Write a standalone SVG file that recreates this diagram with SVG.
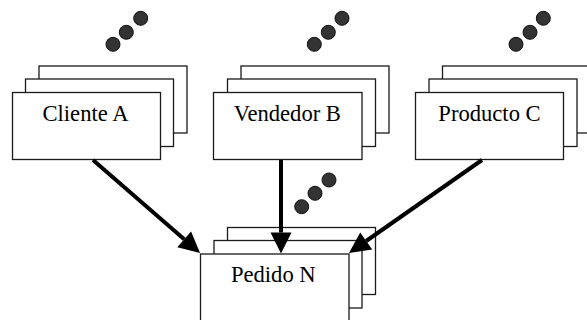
<svg xmlns="http://www.w3.org/2000/svg" width="587" height="320" viewBox="0 0 587 320">
<style>
.card{fill:#fff;stroke:#1a1a1a;stroke-width:1.3}
.dot{fill:#333;stroke:#111;stroke-width:1}
.lbl{font-family:"Liberation Serif","Times New Roman",serif;font-size:22.6px;fill:#000;text-anchor:middle}
.arr{stroke:#000;stroke-width:4;fill:none;marker-end:url(#ah)}
</style>
<defs>
<marker id="ah" markerUnits="userSpaceOnUse" markerWidth="21" markerHeight="22" refX="0" refY="10.5" orient="auto" viewBox="0 0 21 22" overflow="visible">
<path d="M0,0 L21,10.5 L0,21 Z" fill="#000"/>
</marker>
</defs>
<rect width="587" height="320" fill="#fff"/>
<g id="cliente-a">
<circle class="dot" cx="113" cy="44.3" r="7"/>
<circle class="dot" cx="126.3" cy="32.3" r="7"/>
<circle class="dot" cx="140.7" cy="18.3" r="7"/>
<rect class="card" x="39" y="66" width="148" height="67"/>
<rect class="card" x="25.5" y="79" width="148" height="67.5"/>
<rect class="card" x="12.5" y="92.5" width="148" height="67"/>
<text class="lbl" x="85.5" y="120.7">Cliente A</text>
</g>
<g id="vendedor-b">
<circle class="dot" cx="314.3" cy="44.3" r="7"/>
<circle class="dot" cx="328.3" cy="32.3" r="7"/>
<circle class="dot" cx="342" cy="18.3" r="7"/>
<rect class="card" x="241" y="66" width="148" height="67"/>
<rect class="card" x="227.5" y="79" width="148" height="67.5"/>
<rect class="card" x="213.5" y="92.5" width="148.5" height="67"/>
<text class="lbl" x="287.3" y="120.7">Vendedor B</text>
</g>
<g id="producto-c">
<circle class="dot" cx="516" cy="44.3" r="7"/>
<circle class="dot" cx="530" cy="32.3" r="7"/>
<circle class="dot" cx="543.3" cy="18.3" r="7"/>
<rect class="card" x="442.5" y="66" width="148" height="67"/>
<rect class="card" x="429" y="79" width="148" height="67.5"/>
<rect class="card" x="415.5" y="92.5" width="148" height="67"/>
<text class="lbl" x="489.5" y="120.7">Producto C</text>
</g>
<g id="pedido-n">
<circle class="dot" cx="301.7" cy="206.7" r="7"/>
<circle class="dot" cx="315" cy="193.3" r="7"/>
<circle class="dot" cx="329" cy="180" r="7"/>
<rect class="card" x="227.5" y="227.5" width="148" height="67"/>
<rect class="card" x="214" y="240.5" width="148" height="67.5"/>
<rect class="card" x="200.5" y="254" width="148.5" height="67"/>
<text class="lbl" x="273.3" y="281.7">Pedido N</text>
</g>
<g id="connectors">
<line class="arr" x1="93" y1="160" x2="184.2" y2="239.3"/>
<line class="arr" x1="281" y1="160" x2="281" y2="232.5"/>
<line class="arr" x1="482" y1="160" x2="366.2" y2="241"/>
</g>
</svg>
